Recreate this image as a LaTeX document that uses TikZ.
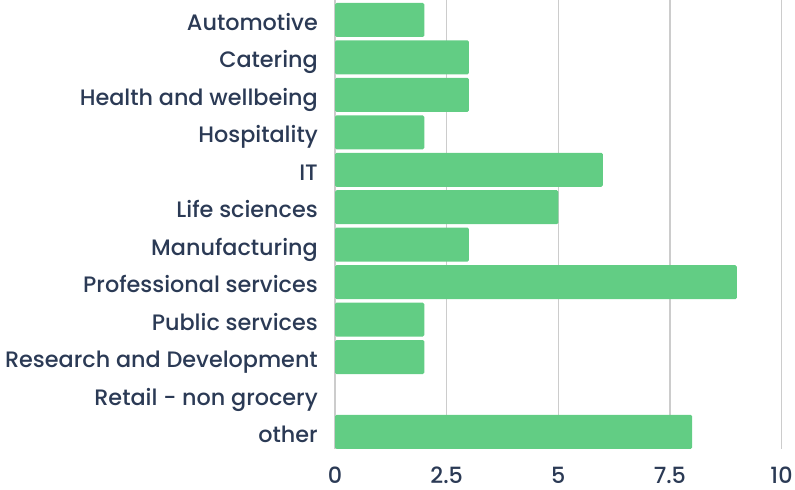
\documentclass[tikz,border=0pt]{standalone}
\usepackage{fontspec}
\setmainfont{Poppins}[UprightFont=* Medium]
\definecolor{barcol}{HTML}{62CD84}
\definecolor{txtcol}{HTML}{2B3A55}
\definecolor{gridcol}{HTML}{CCCCCC}
\begin{document}
\begin{tikzpicture}[x=1bp,y=-1bp,
    lbl/.style={anchor=base east,text=txtcol,font=\fontsize{22.4}{25}\selectfont,inner sep=0pt},
    tick/.style={anchor=base,text=txtcol,font=\fontsize{22.4}{25}\selectfont,inner sep=0pt},
    bar/.style={fill=barcol,rounded corners=1.5bp}]
  \useasboundingbox (0,0) rectangle (795,490);

  % vertical grid lines and axis values
  \foreach \v/\t in {0/0,2.5/2.5,5/5,7.5/7.5,10/10} {
    \draw[gridcol,line width=1.4bp] (335+44.65*\v,0) -- (335+44.65*\v,449);
    \node[tick] (tick-\v) at (335+44.65*\v,483) {\t};
  }

  % one bar per sector
  \foreach \i/\name/\val in {
    0/Automotive/2,
    1/Catering/3,
    2/Health and wellbeing/3,
    3/Hospitality/2,
    4/IT/6,
    5/Life sciences/5,
    6/Manufacturing/3,
    7/Professional services/9,
    8/Public services/2,
    9/Research and Development/2,
    10/Retail - non grocery/0,
    11/other/8
  }
  {
    \pgfmathsetmacro{\yc}{20+37.45*\i}
    \ifdim \val pt>0pt
      \fill[bar] (335,\yc-17) rectangle (335+44.65*\val,\yc+17);
    \fi
    \node[lbl] (sector-\i) at (318,\yc+10.5) {\name};
  }
\end{tikzpicture}
\end{document}
